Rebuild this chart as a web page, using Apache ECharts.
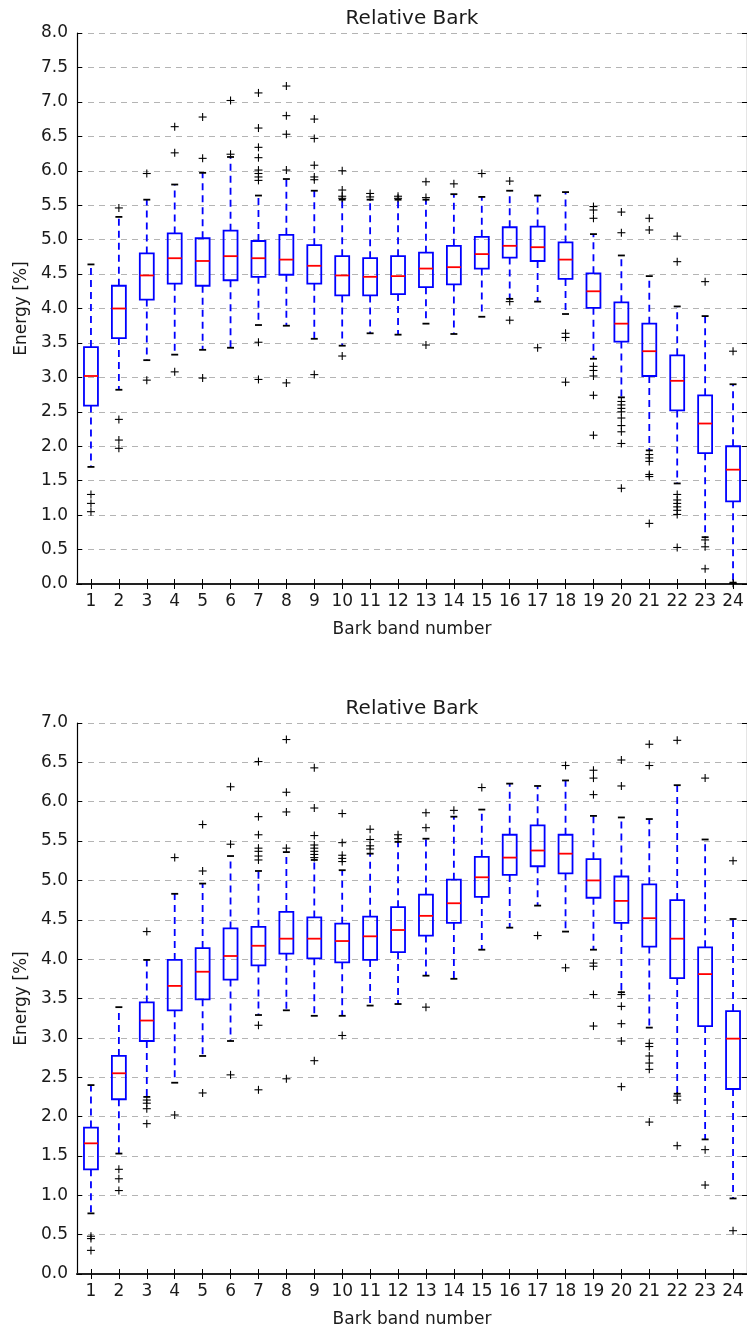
<!DOCTYPE html>
<html>
<head>
<meta charset="utf-8">
<script src="https://cdn.jsdelivr.net/npm/echarts@6/dist/echarts.min.js"></script>
<style>
  html, body { margin: 0; padding: 0; background: #fff; }
  #chart { width: 747px; height: 1331px; }
</style>
</head>
<body>
<div id="chart"></div>
<script>
// Bark bands on the x axis
const bands = ['1','2','3','4','5','6','7','8','9','10','11','12','13','14','15','16','17','18','19','20','21','22','23','24'];

// Upper panel: whisker ends, quartiles, medians (Energy %)
const upperLow    = [1.70, 2.82, 3.25, 3.33, 3.40, 3.43, 3.76, 3.75, 3.56, 3.46, 3.64, 3.62, 3.78, 3.63, 3.88, 4.14, 4.10, 3.92, 3.27, 2.71, 1.94, 1.46, 0.68, 0.02];
const upperQ1     = [2.59, 3.57, 4.13, 4.36, 4.33, 4.41, 4.46, 4.49, 4.36, 4.19, 4.19, 4.21, 4.31, 4.35, 4.58, 4.74, 4.69, 4.43, 4.01, 3.52, 3.02, 2.52, 1.90, 1.20];
const upperMedian = [3.02, 4.00, 4.48, 4.73, 4.69, 4.76, 4.73, 4.71, 4.62, 4.48, 4.46, 4.47, 4.58, 4.60, 4.79, 4.91, 4.89, 4.71, 4.25, 3.78, 3.38, 2.95, 2.33, 1.66];
const upperQ3     = [3.44, 4.33, 4.80, 5.09, 5.02, 5.13, 4.98, 5.07, 4.92, 4.76, 4.73, 4.76, 4.81, 4.91, 5.04, 5.18, 5.19, 4.96, 4.51, 4.09, 3.78, 3.32, 2.74, 2.00];
const upperHigh   = [4.64, 5.33, 5.58, 5.80, 5.97, 6.20, 5.64, 5.88, 5.71, 5.58, 5.58, 5.58, 5.58, 5.66, 5.62, 5.71, 5.64, 5.69, 5.08, 4.77, 4.47, 4.03, 3.89, 2.90];
const upperFliers = [
  [1.30, 1.17, 1.05],
  [5.46, 2.39, 2.09, 1.97],
  [5.96, 2.96],
  [6.64, 6.26, 3.08],
  [6.78, 6.18, 2.99],
  [7.02, 6.24],
  [7.13, 6.62, 6.34, 6.19, 6.01, 5.96, 5.91, 5.86, 3.51, 2.97],
  [7.23, 6.80, 6.53, 6.01, 2.92],
  [6.75, 6.47, 6.08, 5.91, 5.87, 3.04],
  [6.00, 5.72, 5.63, 5.60, 3.31],
  [5.67, 5.62],
  [5.63, 5.60],
  [5.84, 5.61, 3.47],
  [5.81],
  [5.96],
  [5.85, 4.10, 3.83],
  [3.43],
  [3.64, 3.58, 2.93],
  [5.48, 5.43, 5.31, 3.16, 3.10, 3.02, 2.74, 2.16],
  [5.40, 5.10, 2.65, 2.60, 2.55, 2.50, 2.41, 2.30, 2.21, 2.04, 1.39],
  [5.31, 5.14, 1.88, 1.83, 1.78, 1.59, 1.56, 0.88],
  [5.05, 4.68, 1.30, 1.22, 1.17, 1.12, 1.07, 1.01, 0.53],
  [4.39, 0.64, 0.54, 0.22],
  [3.38, 0.01]
];

// Lower panel: whisker ends, quartiles, medians (Energy %)
const lowerLow    = [0.77, 1.53, 2.25, 2.43, 2.77, 2.96, 3.29, 3.35, 3.28, 3.28, 3.41, 3.43, 3.79, 3.75, 4.12, 4.40, 4.68, 4.35, 4.12, 3.58, 3.13, 2.29, 1.71, 0.96];
const lowerQ1     = [1.33, 2.22, 2.96, 3.35, 3.49, 3.74, 3.92, 4.07, 4.01, 3.96, 3.99, 4.09, 4.30, 4.46, 4.79, 5.07, 5.18, 5.09, 4.78, 4.46, 4.16, 3.76, 3.15, 2.35];
const lowerMedian = [1.66, 2.55, 3.22, 3.66, 3.84, 4.04, 4.17, 4.26, 4.26, 4.23, 4.29, 4.37, 4.55, 4.71, 5.04, 5.29, 5.38, 5.34, 5.00, 4.74, 4.52, 4.26, 3.81, 2.99];
const lowerQ3     = [1.86, 2.77, 3.45, 3.99, 4.14, 4.39, 4.41, 4.60, 4.53, 4.45, 4.54, 4.66, 4.82, 5.01, 5.30, 5.58, 5.70, 5.58, 5.27, 5.05, 4.95, 4.75, 4.15, 3.34];
const lowerHigh   = [2.40, 3.39, 3.99, 4.83, 4.96, 5.31, 5.12, 5.36, 5.26, 5.13, 5.34, 5.49, 5.53, 5.81, 5.90, 6.23, 6.20, 6.27, 5.82, 5.80, 5.78, 6.21, 5.52, 4.51];
const lowerFliers = [
  [0.48, 0.45, 0.30],
  [1.33, 1.21, 1.06],
  [4.35, 2.21, 2.17, 2.10, 1.91],
  [5.29, 2.02],
  [5.71, 5.12, 2.30],
  [6.19, 5.46, 2.53],
  [6.51, 5.81, 5.58, 5.41, 5.37, 5.31, 5.26, 3.16, 2.34],
  [6.79, 6.12, 5.87, 5.41, 2.48],
  [6.43, 5.92, 5.57, 5.45, 5.41, 5.37, 5.33, 5.29, 2.71],
  [5.85, 5.48, 5.32, 5.28, 5.24, 3.03],
  [5.65, 5.52, 5.44, 5.40],
  [5.58, 5.53],
  [5.86, 5.67, 3.39],
  [5.89],
  [6.18],
  [],
  [4.30],
  [6.46, 3.89],
  [6.40, 6.30, 6.09, 3.95, 3.91, 3.55, 3.15],
  [6.53, 6.20, 3.55, 3.40, 3.18, 2.96, 2.38],
  [6.73, 6.46, 2.93, 2.89, 2.77, 2.68, 2.60, 1.93],
  [6.78, 2.26, 2.21, 1.63],
  [6.30, 1.58, 1.13],
  [5.25, 0.55]
];

const FONT = 'DejaVu Sans';
const TEXT = '#1a1a1a';
const BLUE = '#0000ff';
const RED = '#ff0000';

function boxRows(lo, q1, md, q3, hi) {
  return bands.map((b, i) => [i, lo[i], q1[i], md[i], q3[i], hi[i]]);
}
function flierRows(fl) {
  const rows = [];
  fl.forEach((list, i) => list.forEach(v => rows.push([i, v])));
  return rows;
}

// matplotlib-style box: solid blue box, red median, dashed blue whiskers, black caps
function renderBox(params, api) {
  const i = api.value(0);
  const lo = api.coord([i, api.value(1)]);
  const q1 = api.coord([i, api.value(2)]);
  const md = api.coord([i, api.value(3)]);
  const q3 = api.coord([i, api.value(4)]);
  const hi = api.coord([i, api.value(5)]);
  const band = api.size([1, 0])[0];
  const cx = lo[0];
  const hb = band * 0.25;
  const hc = band * 0.125;
  const dash = { stroke: BLUE, lineWidth: 1.8, lineDash: [7, 5], fill: null };
  const cap = { stroke: '#000', lineWidth: 1.8, fill: null };
  return {
    type: 'group',
    children: [
      { type: 'line', shape: { x1: cx, y1: q3[1], x2: cx, y2: hi[1] }, style: dash },
      { type: 'line', shape: { x1: cx, y1: q1[1], x2: cx, y2: lo[1] }, style: dash },
      { type: 'line', shape: { x1: cx - hc, y1: hi[1], x2: cx + hc, y2: hi[1] }, style: cap },
      { type: 'line', shape: { x1: cx - hc, y1: lo[1], x2: cx + hc, y2: lo[1] }, style: cap },
      { type: 'rect', shape: { x: cx - hb, y: q3[1], width: 2 * hb, height: q1[1] - q3[1] },
        style: { fill: null, stroke: BLUE, lineWidth: 1.8 } },
      { type: 'line', shape: { x1: cx - hb, y1: md[1], x2: cx + hb, y2: md[1] },
        style: { stroke: RED, lineWidth: 1.8 } }
    ]
  };
}

// outliers drawn as black '+' markers
function renderPlus(params, api) {
  const c = api.coord([api.value(0), api.value(1)]);
  const r = 4;
  const st = { stroke: '#000', lineWidth: 1.1 };
  return {
    type: 'group',
    children: [
      { type: 'line', shape: { x1: c[0] - r, y1: c[1], x2: c[0] + r, y2: c[1] }, style: st },
      { type: 'line', shape: { x1: c[0], y1: c[1] - r, x2: c[0], y2: c[1] + r }, style: st }
    ]
  };
}

function panelAxes(gridIndex, yMax) {
  const lbl = { fontFamily: FONT, fontSize: 17, color: TEXT };
  const tick = { show: true, inside: true, length: 5, lineStyle: { color: '#000', width: 1 } };
  const line = { show: true, lineStyle: { color: '#000', width: 1.2 } };
  const xAxes = [
    {
      type: 'category', gridIndex, data: bands, position: 'bottom', boundaryGap: true,
      axisLine: line, axisTick: Object.assign({ alignWithLabel: true }, tick),
      axisLabel: Object.assign({ margin: 9, interval: 0 }, lbl),
      splitLine: { show: false },
      name: 'Bark band number', nameLocation: 'middle', nameGap: 37,
      nameTextStyle: { fontFamily: FONT, fontSize: 17, color: TEXT }
    },
    {
      type: 'category', gridIndex, data: bands, position: 'top', boundaryGap: true,
      axisLine: { show: true, lineStyle: { color: '#222', width: 2 } },
      axisTick: Object.assign({ alignWithLabel: true }, tick),
      axisLabel: { show: false }, splitLine: { show: false },
      name: 'Relative Bark', nameLocation: 'middle', nameGap: 4,
      nameTextStyle: { fontFamily: FONT, fontSize: 20, color: TEXT }
    }
  ];
  const yAxes = [
    {
      type: 'value', gridIndex, min: 0, max: yMax, interval: 0.5, position: 'left',
      axisLine: line, axisTick: tick,
      axisLabel: Object.assign({ margin: 9, formatter: v => v.toFixed(1) }, lbl),
      splitLine: { show: true, lineStyle: { color: '#b4b4b4', width: 1, type: [6, 5] } },
      name: 'Energy [%]', nameLocation: 'middle', nameGap: 37, nameRotate: 90,
      nameTextStyle: { fontFamily: FONT, fontSize: 17, color: TEXT }
    },
    {
      type: 'value', gridIndex, min: 0, max: yMax, interval: 0.5, position: 'right',
      axisLine: line, axisTick: tick, axisLabel: { show: false }, splitLine: { show: false }
    }
  ];
  return { xAxes, yAxes };
}

const upperAxes = panelAxes(0, 8);
const lowerAxes = panelAxes(1, 7);

const option = {
  backgroundColor: '#fff',
  animation: false,
  grid: [
    { left: 77, top: 33, width: 671, height: 551, show: false },
    { left: 77, top: 723, width: 671, height: 551, show: false }
  ],
  xAxis: upperAxes.xAxes.concat(lowerAxes.xAxes),
  yAxis: upperAxes.yAxes.concat(lowerAxes.yAxes),
  series: [
    {
      type: 'custom', xAxisIndex: 0, yAxisIndex: 0, renderItem: renderBox,
      encode: { x: 0, y: [1, 2, 3, 4, 5] },
      data: boxRows(upperLow, upperQ1, upperMedian, upperQ3, upperHigh), z: 3
    },
    {
      type: 'custom', xAxisIndex: 0, yAxisIndex: 0, renderItem: renderPlus,
      encode: { x: 0, y: 1 }, data: flierRows(upperFliers), z: 4
    },
    {
      type: 'custom', xAxisIndex: 2, yAxisIndex: 2, renderItem: renderBox,
      encode: { x: 0, y: [1, 2, 3, 4, 5] },
      data: boxRows(lowerLow, lowerQ1, lowerMedian, lowerQ3, lowerHigh), z: 3
    },
    {
      type: 'custom', xAxisIndex: 2, yAxisIndex: 2, renderItem: renderPlus,
      encode: { x: 0, y: 1 }, data: flierRows(lowerFliers), z: 4
    }
  ]
};

const chart = echarts.init(document.getElementById('chart'), null, { renderer: 'canvas' });
chart.setOption(option);
</script>
</body>
</html>
